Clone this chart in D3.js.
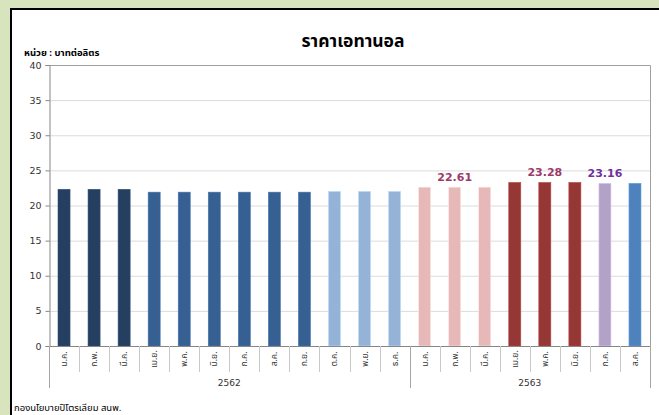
<!DOCTYPE html>
<html><head><meta charset="utf-8">
<script src="https://cdn.jsdelivr.net/npm/d3@7"></script>
<style>
html,body{margin:0;padding:0;background:#d7e4bd;}
svg{display:block;font-family:Tahoma,"Noto Sans Thai","Noto Sans","DejaVu Sans",sans-serif;}
</style></head>
<body><svg id="c" width="659" height="415"></svg>
<script>
const months = ["ม.ค.","ก.พ.","มี.ค.","เม.ย.","พ.ค.","มิ.ย.","ก.ค.","ส.ค.","ก.ย.","ต.ค.","พ.ย.","ธ.ค.","ม.ค.","ก.พ.","มี.ค.","เม.ย.","พ.ค.","มิ.ย.","ก.ค.","ส.ค."];
const years = ["2562","2563"];
const yearCounts = [12, 8];
const values = [22.30,22.30,22.30,21.90,21.90,21.90,21.90,21.90,21.90,22.01,22.01,22.01,22.61,22.61,22.61,23.28,23.28,23.28,23.16,23.16];
const barColors = ["#243f60","#243f60","#243f60","#366092","#366092","#366092","#366092","#366092","#366092","#95b3d7","#95b3d7","#95b3d7","#e6b9b8","#e6b9b8","#e6b9b8","#953735","#953735","#953735","#b3a2c7","#4f81bd"];
const labelIdx = [13, 16, 18];
const labelColors = ["#9b3a6a","#9b3a6a","#7030a0"];
const yTicks = [0,5,10,15,20,25,30,35,40];

const svg = d3.select("#c");
// frame
svg.append("rect").attr("x",11).attr("y",9).attr("width",700).attr("height",450)
  .attr("fill","#fff").attr("stroke","#000").attr("stroke-width",2);

const L=49,R=650,T=65,B=346;
const x = d3.scaleBand().domain(d3.range(months.length)).range([L,R]).paddingInner(0.6).paddingOuter(0.3);
const xb = d3.scaleBand().domain(d3.range(months.length)).range([L,R]);
const y = d3.scaleLinear().domain([0,40]).range([B,T]);

// gridlines
svg.append("g").selectAll("line").data(yTicks.filter(d=>d>0)).join("line")
  .attr("x1",L).attr("x2",R).attr("y1",d=>y(d)+0.5).attr("y2",d=>y(d)+0.5)
  .attr("stroke","#dcdcdc").attr("stroke-width",1);
// plot border top/right
svg.append("path").attr("d",`M${L},${T+0.5}H${R+0.5}V${B}`).attr("fill","none").attr("stroke","#a0a0a0");

// y axis
const ya = svg.append("g").attr("transform",`translate(${L+0.5},0)`)
  .call(d3.axisLeft(y).tickValues(yTicks).tickSize(4).tickPadding(4));
ya.select(".domain").attr("stroke","#868686");
ya.selectAll(".tick line").attr("stroke","#868686");
ya.selectAll("text").attr("font-size",9.5).attr("fill","#333").attr("font-family","'DejaVu Sans',sans-serif");

// bars
svg.append("g").selectAll("rect").data(values).join("rect")
  .attr("x",(d,i)=>x(i)).attr("width",x.bandwidth())
  .attr("y",d=>y(d)).attr("height",d=>B-y(d))
  .attr("fill",(d,i)=>barColors[i])
  .attr("stroke",(d,i)=>d3.color(barColors[i]).brighter(0.6)).attr("stroke-width",0.6);

// value labels
svg.append("g").selectAll("text").data(labelIdx).join("text")
  .attr("x",i=>xb(i)+xb.bandwidth()/2).attr("y",i=>y(values[i])-6)
  .attr("text-anchor","middle").attr("font-size",11).attr("font-weight","bold")
  .attr("fill",(d,k)=>labelColors[k]).attr("font-family","'DejaVu Sans',sans-serif")
  .text(i=>values[i].toFixed(2));

// x axis line
svg.append("line").attr("x1",L).attr("x2",R+0.5).attr("y1",B+0.5).attr("y2",B+0.5).attr("stroke","#868686");

// category separators
const seps = d3.range(months.length+1);
const groupBounds = [0];
yearCounts.reduce((a,c)=>{groupBounds.push(a+c);return a+c;},0);
svg.append("g").selectAll("line").data(seps).join("line")
  .attr("x1",i=>Math.round(L+i*xb.step())+0.5).attr("x2",i=>Math.round(L+i*xb.step())+0.5)
  .attr("y1",B).attr("y2",i=>groupBounds.includes(i)?388:372)
  .attr("stroke",i=>groupBounds.includes(i)?"#a6a6a6":"#c8c8c8");

// month labels
svg.append("g").selectAll("text").data(months).join("text")
  .attr("transform",(d,i)=>`translate(${xb(i)+xb.bandwidth()/2+3},${359}) rotate(-90)`)
  .attr("text-anchor","middle").attr("font-size",8.5).attr("fill","#333")
  .text(d=>d);

// year labels
svg.append("g").selectAll("text").data(years).join("text")
  .attr("x",(d,k)=>(xb(groupBounds[k])+xb(groupBounds[k+1]-1)+xb.bandwidth())/2)
  .attr("y",386).attr("text-anchor","middle").attr("font-size",9).attr("fill","#333")
  .attr("font-family","'DejaVu Sans',sans-serif")
  .text(d=>d);

// title
svg.append("text").attr("x",353).attr("y",47).attr("text-anchor","middle")
  .attr("font-size",17.5).attr("font-weight","bold").attr("fill","#000").text("ราคาเอทานอล");
// unit
svg.append("text").attr("x",24).attr("y",56).attr("font-size",9.5).attr("font-weight","bold")
  .attr("fill","#000").text("หน่วย : บาทต่อลิตร");
// footer
svg.append("text").attr("x",14).attr("y",411).attr("font-size",9.5)
  .attr("fill","#000").text("กองนโยบายปิโตรเลียม  สนพ.");
</script></body></html>
